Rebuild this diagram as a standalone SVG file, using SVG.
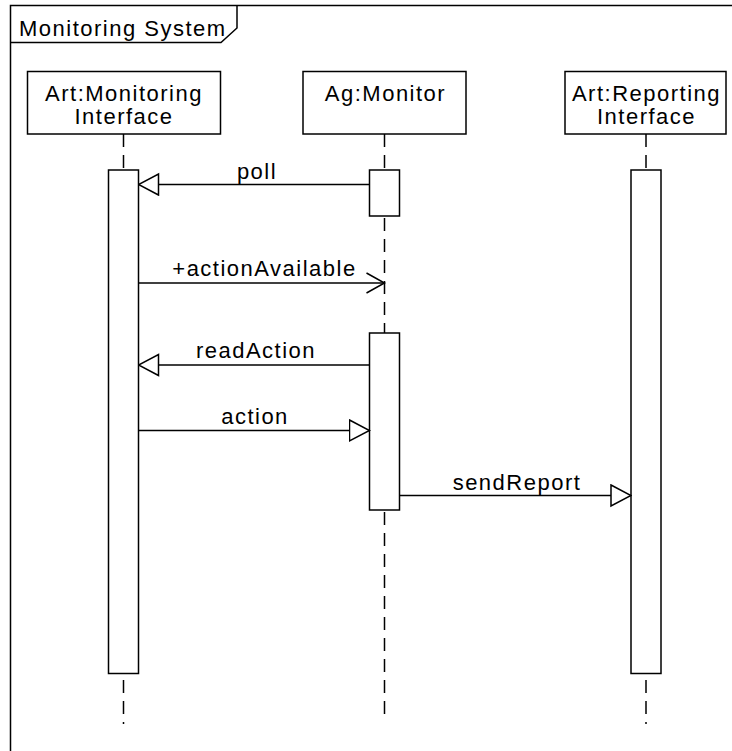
<svg xmlns="http://www.w3.org/2000/svg" width="732" height="751" viewBox="0 0 732 751">
<style>
  text { font-family: "Liberation Sans", Arial, sans-serif; font-size: 22px; letter-spacing: 1.5px; fill: #000; }
  .c { text-anchor: middle; }
  .box { fill: #fff; stroke: #000; stroke-width: 1.5; }
  .life { stroke: #000; stroke-width: 1.5; stroke-dasharray: 13 8; fill: none; }
  .msg { stroke: #000; stroke-width: 1.5; fill: none; }
  .frame { fill: none; stroke: #000; stroke-width: 1.5; }
</style>
<defs>
  <marker id="tri" markerUnits="userSpaceOnUse" markerWidth="22" markerHeight="24" viewBox="-1 -1 22 24" refX="20" refY="10.5" orient="auto">
    <path d="M0,0 L20,10.5 L0,21 z" fill="#fff" stroke="#000" stroke-width="1.5"/>
  </marker>
  <marker id="open" markerUnits="userSpaceOnUse" markerWidth="22" markerHeight="24" viewBox="-1 -1 22 24" refX="18" refY="10" orient="auto">
    <path d="M0,0 L18,10 L0,20" fill="none" stroke="#000" stroke-width="1.5"/>
  </marker>
</defs>
<rect width="732" height="751" fill="#fff"/>
<g id="frame">
  <rect class="frame" x="10.5" y="5.5" width="740" height="770"/>
  <path class="frame" d="M10.5,42.5 H221 L237,28 V5.5"/>
  <text x="19" y="36">Monitoring System</text>
</g>
<g id="lifelines">
  <line class="life" x1="123.5" y1="134" x2="123.5" y2="724"/>
  <line class="life" x1="384.5" y1="134" x2="384.5" y2="716"/>
  <line class="life" x1="646" y1="134" x2="646" y2="724"/>
</g>
<g id="monitoringInterface">
  <rect class="box" x="27.5" y="71.5" width="193" height="62.5"/>
  <text class="c" x="124" y="101">Art:Monitoring</text>
  <text class="c" x="124" y="124">Interface</text>
  <rect class="box" x="108.5" y="170" width="30" height="503.5"/>
</g>
<g id="monitor">
  <rect class="box" x="303" y="71.5" width="163" height="62.5"/>
  <text class="c" x="385.5" y="101">Ag:Monitor</text>
  <rect class="box" x="369.5" y="170" width="30" height="46"/>
  <rect class="box" x="369.5" y="333" width="30" height="177"/>
</g>
<g id="reportingInterface">
  <rect class="box" x="565" y="71.5" width="161" height="62.5"/>
  <text class="c" x="646.5" y="101">Art:Reporting</text>
  <text class="c" x="646.5" y="124">Interface</text>
  <rect class="box" x="631" y="170" width="30" height="503.5"/>
</g>
<g id="connectors">
  <line class="msg" x1="369.5" y1="184.5" x2="138.5" y2="184.5" marker-end="url(#tri)"/>
  <text class="c" x="257" y="179">poll</text>
  <line class="msg" x1="138.5" y1="283" x2="384.5" y2="283" marker-end="url(#open)"/>
  <text class="c" x="264.5" y="276">+actionAvailable</text>
  <line class="msg" x1="369.5" y1="365" x2="138.5" y2="365" marker-end="url(#tri)"/>
  <text class="c" x="256" y="358">readAction</text>
  <line class="msg" x1="138.5" y1="430.5" x2="369.5" y2="430.5" marker-end="url(#tri)"/>
  <text class="c" x="255" y="424">action</text>
  <line class="msg" x1="399.5" y1="495.5" x2="631" y2="495.5" marker-end="url(#tri)"/>
  <text class="c" x="517" y="490">sendReport</text>
</g>
</svg>
